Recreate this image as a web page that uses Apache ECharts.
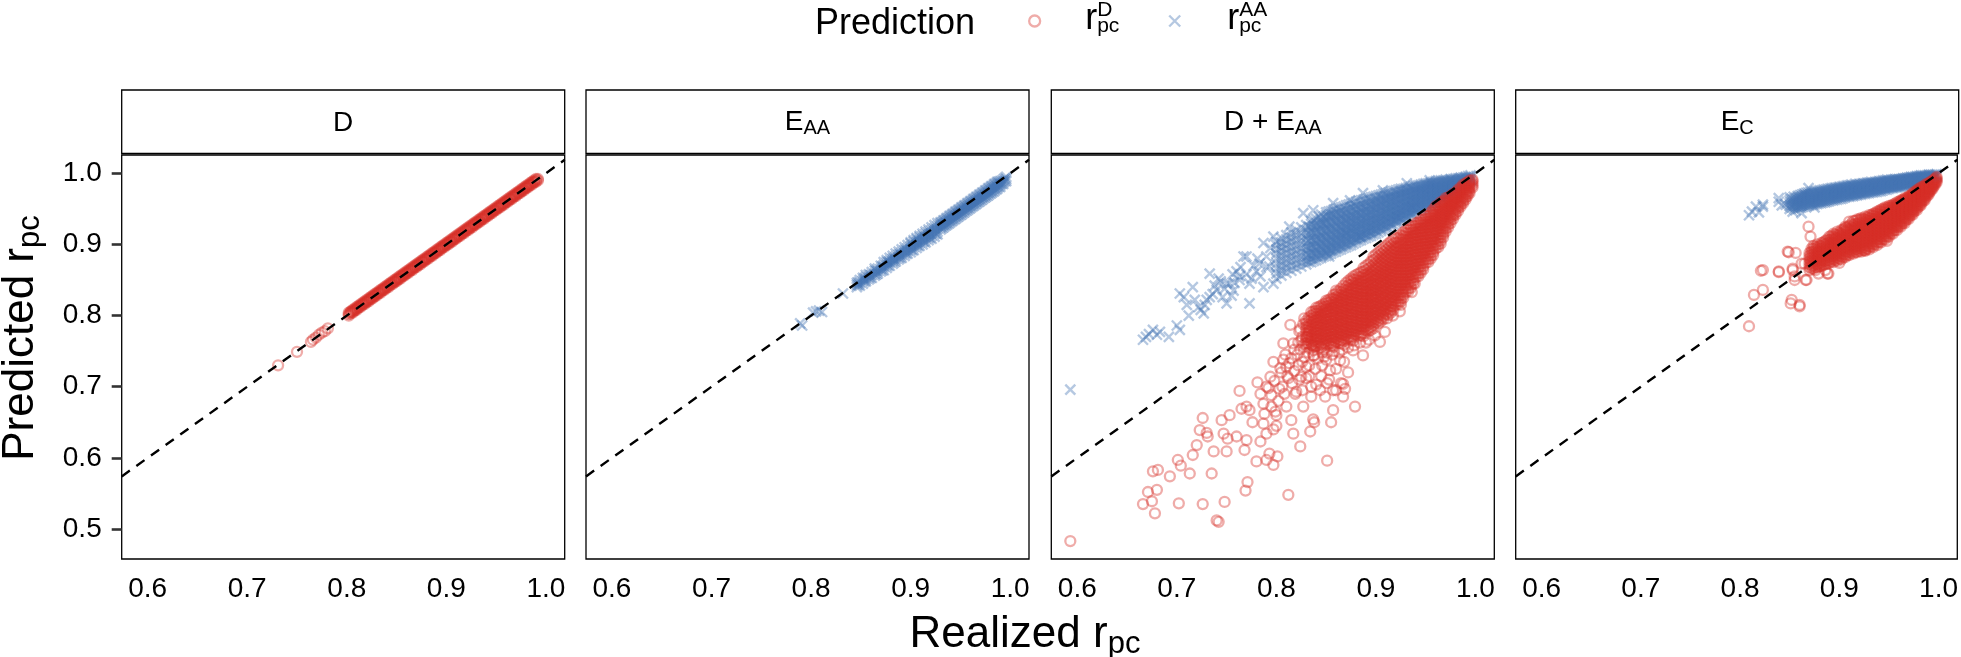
<!DOCTYPE html>
<html>
<head>
<meta charset="utf-8">
<title>Predicted vs realized r_pc</title>
<script src="https://cdn.jsdelivr.net/npm/echarts@6.0.0/dist/echarts.min.js"></script>
<style>
  html, body { margin: 0; padding: 0; background: #fff; }
  #chart { width: 1961px; height: 657px; }
</style>
</head>
<body>
<div id="chart"></div>
<script>
// tick labels
var xTickValues = [0.6, 0.7, 0.8, 0.9, 1.0];
var yTickValues = [0.5, 0.6, 0.7, 0.8, 0.9, 1.0];
// axis limits (data range + 5% padding)
var xMin = 0.5739, xMax = 1.0189;
var yMin = 0.4578, yMax = 1.0257;

// Point clouds. Loose points are [realized, predicted] pairs;
// crowded stretches are written per realized value: [realized, [predicted, ...]].

// panel "D" : prediction r^D
var panelD_rD_loose = [
  [0.731,0.730],[0.750,0.749],[0.764,0.763],[0.766,0.766],[0.769,0.769],[0.772,0.773],[0.775,0.776],[0.778,0.778],[0.781,0.782]
];
var panelD_rD_band = [
  [0.802,[0.800,0.802,0.804]],[0.804,[0.803,0.805,0.806]],[0.806,[0.804,0.806,0.808]],[0.808,[0.807,0.808,0.810]],
  [0.810,[0.808,0.810,0.812]],[0.812,[0.811,0.812,0.814]],[0.814,[0.812,0.814,0.816]],[0.816,[0.815,0.816,0.818]],
  [0.818,[0.816,0.818,0.820]],[0.820,[0.819,0.820,0.822]],[0.822,[0.820,0.822,0.824]],[0.824,[0.823,0.824,0.826]],
  [0.826,[0.824,0.826,0.828]],[0.828,[0.827,0.828,0.830]],[0.830,[0.828,0.830,0.832]],[0.832,[0.831,0.832,0.834]],
  [0.834,[0.832,0.834,0.836]],[0.836,[0.835,0.836,0.838]],[0.838,[0.836,0.838,0.840]],[0.840,[0.839,0.840,0.842]],
  [0.842,[0.840,0.842,0.844]],[0.844,[0.843,0.844,0.846]],[0.846,[0.844,0.846,0.848]],[0.848,[0.847,0.848,0.850]],
  [0.850,[0.848,0.850,0.852]],[0.852,[0.851,0.852,0.854]],[0.854,[0.852,0.854,0.856]],[0.856,[0.855,0.856,0.858]],
  [0.858,[0.856,0.858,0.860]],[0.860,[0.859,0.860,0.862]],[0.862,[0.860,0.862,0.864]],[0.864,[0.863,0.864,0.866]],
  [0.866,[0.864,0.866,0.868]],[0.868,[0.867,0.868,0.870]],[0.870,[0.868,0.870,0.872]],[0.872,[0.871,0.872,0.874]],
  [0.874,[0.872,0.874,0.876]],[0.876,[0.875,0.876,0.878]],[0.878,[0.876,0.878,0.880]],[0.880,[0.879,0.880,0.882]],
  [0.882,[0.880,0.882,0.884]],[0.884,[0.883,0.884,0.886]],[0.886,[0.884,0.886,0.888]],[0.888,[0.887,0.888,0.890]],
  [0.890,[0.888,0.890,0.892]],[0.892,[0.891,0.892,0.894]],[0.894,[0.892,0.894,0.896]],[0.896,[0.895,0.896,0.898]],
  [0.898,[0.896,0.898,0.900]],[0.900,[0.899,0.900,0.902]],[0.902,[0.900,0.902,0.904]],[0.904,[0.903,0.904,0.906]],
  [0.906,[0.904,0.906,0.908]],[0.908,[0.907,0.908,0.910]],[0.910,[0.908,0.910,0.912]],[0.912,[0.911,0.912,0.914]],
  [0.914,[0.912,0.914,0.916]],[0.916,[0.915,0.916,0.918]],[0.918,[0.916,0.918,0.920]],[0.920,[0.919,0.920,0.922]],
  [0.922,[0.920,0.922,0.924]],[0.924,[0.923,0.924,0.926]],[0.926,[0.924,0.926,0.928]],[0.928,[0.927,0.928,0.930]],
  [0.930,[0.928,0.930,0.932]],[0.932,[0.931,0.932,0.934]],[0.934,[0.932,0.934,0.936]],[0.936,[0.935,0.936,0.938]],
  [0.938,[0.936,0.938,0.940]],[0.940,[0.939,0.940,0.942]],[0.942,[0.940,0.942,0.944]],[0.944,[0.943,0.944,0.946]],
  [0.946,[0.944,0.946,0.948]],[0.948,[0.947,0.948,0.950]],[0.950,[0.948,0.950,0.952]],[0.952,[0.951,0.952,0.954]],
  [0.954,[0.952,0.954,0.956]],[0.956,[0.955,0.956,0.958]],[0.958,[0.956,0.958,0.960]],[0.960,[0.959,0.960,0.962]],
  [0.962,[0.960,0.962,0.964]],[0.964,[0.963,0.964,0.966]],[0.966,[0.964,0.966,0.968]],[0.968,[0.967,0.968,0.970]],
  [0.970,[0.968,0.970,0.972]],[0.972,[0.971,0.972,0.974]],[0.974,[0.972,0.974,0.976]],[0.976,[0.975,0.976,0.978]],
  [0.978,[0.976,0.978,0.980]],[0.980,[0.979,0.980,0.982]],[0.982,[0.980,0.982,0.984]],[0.984,[0.983,0.984,0.986]],
  [0.986,[0.984,0.986,0.988]],[0.988,[0.987,0.988,0.990]],[0.990,[0.988,0.990,0.992]],[0.992,[0.990,0.992]]
];

// panel "E_AA" : prediction r^AA
var panelEaa_rAA_loose = [
  [0.789,0.789],[0.791,0.786],[0.802,0.804],[0.805,0.806],[0.808,0.807],[0.811,0.805],[0.832,0.831]
];
var panelEaa_rAA_band = [
  [0.846,[0.840,0.843,0.846]],[0.849,[0.842,0.846,0.850]],[0.852,[0.845,0.849,0.853]],[0.855,[0.848,0.851,0.854,0.857]],
  [0.858,[0.851,0.854,0.858]],[0.861,[0.853,0.857,0.861]],[0.864,[0.856,0.859,0.863,0.866]],[0.867,[0.859,0.862,0.866]],
  [0.870,[0.862,0.866,0.870]],[0.873,[0.864,0.868,0.871,0.875]],[0.876,[0.867,0.871,0.875,0.878]],
  [0.879,[0.870,0.874,0.877,0.881]],[0.882,[0.873,0.877,0.880,0.884]],[0.885,[0.876,0.879,0.883,0.887]],
  [0.888,[0.879,0.882,0.886,0.890]],[0.891,[0.881,0.885,0.889,0.893]],[0.894,[0.884,0.888,0.892,0.896]],
  [0.897,[0.887,0.891,0.895,0.899]],[0.900,[0.889,0.893,0.897,0.901,0.903]],[0.903,[0.892,0.896,0.900,0.904,0.906]],
  [0.906,[0.895,0.899,0.903,0.907,0.909]],[0.909,[0.898,0.902,0.906,0.910,0.912]],[0.912,[0.900,0.904,0.908,0.912,0.915]],
  [0.915,[0.903,0.907,0.911,0.915,0.918]],[0.918,[0.906,0.910,0.914,0.918,0.921]],[0.921,[0.908,0.912,0.916,0.920,0.924]],
  [0.924,[0.911,0.915,0.919,0.923,0.927]],[0.927,[0.914,0.918,0.922,0.926,0.930]],
  [0.930,[0.921,0.924,0.926,0.929,0.931]],[0.933,[0.924,0.927,0.929,0.932,0.934]],[0.936,[0.927,0.930,0.932,0.935,0.937]],
  [0.939,[0.930,0.933,0.935,0.938,0.940]],[0.942,[0.933,0.936,0.938,0.941,0.943]],[0.945,[0.936,0.939,0.941,0.944,0.946]],
  [0.948,[0.939,0.942,0.944,0.947,0.949]],[0.951,[0.942,0.945,0.947,0.950,0.952]],[0.954,[0.945,0.948,0.950,0.953,0.955]],
  [0.957,[0.948,0.951,0.953,0.956,0.958]],[0.960,[0.951,0.954,0.956,0.959,0.961]],[0.963,[0.954,0.957,0.959,0.962,0.964]],
  [0.966,[0.957,0.960,0.962,0.965,0.967]],[0.969,[0.960,0.963,0.965,0.968,0.970]],[0.972,[0.963,0.966,0.968,0.971,0.973]],
  [0.975,[0.966,0.969,0.971,0.974,0.976]],[0.978,[0.969,0.972,0.974,0.977,0.979]],[0.981,[0.972,0.975,0.977,0.980,0.982]],
  [0.984,[0.975,0.978,0.980,0.983,0.985]],[0.987,[0.978,0.981,0.983,0.986,0.988]],[0.990,[0.981,0.984,0.986,0.989]],
  [0.993,[0.985,0.988,0.991]],[0.996,[0.989,0.992,0.995]],
  [0.9315,[0.923,0.927,0.931]],[0.9345,[0.926,0.930,0.934]],[0.9375,[0.929,0.933,0.937]],[0.9405,[0.932,0.936,0.940]],
  [0.9435,[0.935,0.939,0.943]],[0.9465,[0.938,0.942,0.946]],[0.9495,[0.941,0.945,0.949]],[0.9525,[0.944,0.948,0.952]],
  [0.9555,[0.947,0.951,0.955]],[0.9585,[0.950,0.954,0.958]],[0.9615,[0.953,0.957,0.961]],[0.9645,[0.956,0.960,0.964]],
  [0.9675,[0.959,0.963,0.967]],[0.9705,[0.962,0.966,0.970]],[0.9735,[0.965,0.969,0.973]],[0.9765,[0.968,0.972,0.976]],
  [0.9795,[0.971,0.975,0.979]],[0.9825,[0.974,0.978,0.982]],[0.9855,[0.977,0.981,0.985]],[0.9885,[0.981,0.985,0.988]],
  [0.9915,[0.985,0.989]],[0.9945,[0.989,0.993]],
  [0.8475,[0.843,0.847]],[0.8535,[0.848,0.852]],[0.8595,[0.853,0.857]],[0.8655,[0.858,0.863]],[0.8715,[0.864,0.869]],
  [0.8775,[0.870,0.875]],[0.8835,[0.875,0.880]],[0.8895,[0.881,0.886]],[0.8955,[0.887,0.892]],[0.9015,[0.892,0.898]],
  [0.9075,[0.898,0.904]],[0.9135,[0.904,0.910]],[0.9195,[0.909,0.915]],[0.9255,[0.915,0.921]]
];

// panel "D + E_AA" : prediction r^D
var panelDEaa_rD_loose = [
  [0.593,0.483],[0.666,0.535],[0.671,0.552],[0.675,0.539],[0.678,0.522],[0.680,0.555],[0.676,0.581],[0.681,0.583],[0.693,0.574],
  [0.702,0.536],[0.701,0.597],[0.704,0.589],[0.713,0.578],[0.716,0.604],[0.720,0.618],[0.723,0.639],[0.726,0.656],[0.726,0.535],
  [0.730,0.635],[0.731,0.630],[0.735,0.578],[0.737,0.609],[0.742,0.510],[0.740,0.512],[0.745,0.653],[0.747,0.634],[0.748,0.538],
  [0.750,0.609],[0.751,0.627],[0.753,0.660],[0.760,0.630],[0.763,0.694],[0.765,0.669],[0.768,0.611],[0.769,0.554],[0.770,0.625],
  [0.770,0.672],[0.771,0.566],[0.773,0.667],[0.780,0.595],[0.784,0.623],[0.787,0.648],[0.787,0.676],[0.788,0.662],[0.790,0.597],
  [0.790,0.634],[0.792,0.698],[0.793,0.606],[0.794,0.714],[0.797,0.590],[0.797,0.640],[0.797,0.735],[0.799,0.665],[0.800,0.645],
  [0.801,0.602],[0.803,0.697],[0.805,0.720],[0.807,0.738],[0.807,0.761],[0.810,0.728],[0.812,0.548],[0.812,0.712],[0.814,0.787],
  [0.815,0.653],[0.815,0.740],[0.817,0.634],[0.817,0.761],[0.818,0.722],[0.820,0.693],[0.821,0.745],[0.824,0.616],[0.824,0.752],
  [0.824,0.781],[0.825,0.714],[0.826,0.735],[0.827,0.672],[0.828,0.760],[0.830,0.728],[0.832,0.748],[0.833,0.715],[0.834,0.637],
  [0.835,0.686],[0.837,0.654],[0.837,0.744],[0.838,0.650],[0.840,0.703],[0.844,0.695],[0.848,0.742],[0.849,0.686],
  [0.851,0.596],[0.851,0.705],[0.851,0.748],[0.854,0.723],[0.855,0.650],[0.857,0.667],[0.857,0.695],[0.860,0.695],
  [0.864,0.737],[0.865,0.705],[0.867,0.686],[0.867,0.704],[0.869,0.697],[0.872,0.720],[0.877,0.751],
  [0.879,0.672],[0.887,0.744],[0.890,0.762],[0.904,0.763],[0.909,0.777],[0.911,0.796],[0.917,0.800],
  [0.924,0.806],[0.925,0.815],[0.936,0.833],[0.939,0.845],
  [0.790,0.700],[0.795,0.688],[0.798,0.708],[0.802,0.680],[0.804,0.726],[0.806,0.700],[0.808,0.690],[0.809,0.745],
  [0.811,0.715],[0.813,0.733],[0.816,0.705],[0.818,0.752],[0.819,0.690],[0.822,0.730],[0.823,0.710],[0.825,0.765],
  [0.826,0.695],[0.828,0.742],[0.830,0.712],[0.831,0.770],[0.833,0.730],[0.835,0.700],[0.836,0.758],[0.839,0.725],
  [0.842,0.740],[0.845,0.715],[0.846,0.730],[0.850,0.738],[0.853,0.710],[0.856,0.745],[0.860,0.725],[0.863,0.748],
  [0.868,0.735],[0.872,0.755],[0.795,0.672],[0.800,0.660],[0.810,0.672],[0.784,0.690],[0.781,0.706],[0.776,0.650],
  [0.838,0.744],[0.846,0.748],[0.858,0.750],[0.866,0.752],[0.878,0.758],[0.884,0.762],[0.893,0.766],[0.899,0.772],
  [0.826,0.770],[0.823,0.778],[0.827,0.788],[0.822,0.762],[0.828,0.796]
];
var panelDEaa_rD_core = [
  [0.830,[0.757,0.761,0.766,0.770,0.775,0.780,0.784,0.789,0.793]],
  [0.835,[0.754,0.759,0.763,0.768,0.772,0.777,0.781,0.786,0.790,0.795,0.800,0.805]],
  [0.840,[0.757,0.762,0.767,0.771,0.776,0.780,0.785,0.789,0.794,0.798,0.803,0.807,0.811]],
  [0.845,[0.756,0.760,0.765,0.769,0.774,0.778,0.783,0.787,0.792,0.796,0.801,0.805,0.810,0.814]],
  [0.850,[0.759,0.764,0.768,0.773,0.777,0.782,0.786,0.791,0.795,0.800,0.804,0.809,0.813,0.818,0.821]],
  [0.855,[0.757,0.761,0.766,0.770,0.775,0.779,0.784,0.788,0.793,0.797,0.802,0.806,0.811,0.815,0.820,0.824]],
  [0.860,[0.763,0.768,0.772,0.777,0.781,0.786,0.790,0.795,0.799,0.804,0.808,0.813,0.817,0.822,0.826,0.831,0.835]],
  [0.865,[0.761,0.765,0.770,0.774,0.779,0.783,0.788,0.792,0.797,0.801,0.806,0.810,0.815,0.819,0.824,0.828,0.833,0.838]],
  [0.870,[0.767,0.772,0.776,0.781,0.785,0.790,0.794,0.799,0.803,0.808,0.812,0.817,0.821,0.826,0.830,0.835,0.840,0.846]],
  [0.875,[0.766,0.770,0.775,0.779,0.784,0.788,0.793,0.797,0.802,0.806,0.811,0.815,0.820,0.824,0.829,0.833,0.838,0.843,0.848,0.852]],
  [0.880,[0.773,0.778,0.782,0.787,0.791,0.796,0.800,0.805,0.809,0.814,0.818,0.823,0.827,0.832,0.836,0.841,0.846,0.851,0.857]],
  [0.885,[0.772,0.776,0.781,0.785,0.790,0.794,0.799,0.803,0.808,0.812,0.817,0.821,0.826,0.830,0.835,0.839,0.844,0.849,0.854,0.861]],
  [0.890,[0.780,0.785,0.789,0.794,0.798,0.803,0.807,0.812,0.816,0.821,0.825,0.830,0.834,0.839,0.843,0.848,0.853,0.858,0.864,0.870]],
  [0.895,[0.780,0.784,0.789,0.793,0.798,0.802,0.807,0.811,0.816,0.820,0.825,0.829,0.834,0.838,0.843,0.847,0.852,0.857,0.862,0.868,0.876]],
  [0.900,[0.790,0.795,0.799,0.804,0.808,0.813,0.817,0.822,0.826,0.831,0.835,0.840,0.844,0.849,0.853,0.858,0.863,0.868,0.874,0.880,0.886]],
  [0.905,[0.792,0.796,0.801,0.805,0.810,0.814,0.819,0.823,0.828,0.832,0.837,0.841,0.846,0.850,0.855,0.859,0.864,0.869,0.874,0.880,0.886,0.892]],
  [0.910,[0.802,0.807,0.811,0.816,0.820,0.825,0.829,0.834,0.838,0.843,0.847,0.852,0.856,0.861,0.865,0.870,0.875,0.880,0.886,0.892,0.898]],
  [0.915,[0.804,0.808,0.813,0.817,0.822,0.826,0.831,0.835,0.840,0.844,0.849,0.853,0.858,0.862,0.867,0.871,0.876,0.881,0.886,0.892,0.898,0.904]],
  [0.920,[0.815,0.820,0.824,0.829,0.833,0.838,0.842,0.847,0.851,0.856,0.860,0.865,0.869,0.874,0.878,0.883,0.888,0.893,0.898,0.903,0.909]],
  [0.925,[0.820,0.824,0.829,0.833,0.838,0.842,0.847,0.851,0.856,0.860,0.865,0.869,0.874,0.878,0.883,0.887,0.892,0.897,0.902,0.907,0.913]],
  [0.930,[0.833,0.838,0.842,0.847,0.851,0.856,0.860,0.865,0.869,0.874,0.878,0.883,0.887,0.892,0.896,0.901,0.906,0.911,0.916,0.920]],
  [0.935,[0.839,0.843,0.848,0.852,0.857,0.861,0.866,0.870,0.875,0.879,0.884,0.888,0.893,0.897,0.902,0.906,0.911,0.916,0.921,0.925]],
  [0.940,[0.854,0.859,0.863,0.868,0.872,0.877,0.881,0.886,0.890,0.895,0.899,0.904,0.908,0.913,0.917,0.922,0.926,0.930]],
  [0.945,[0.860,0.864,0.869,0.873,0.878,0.882,0.887,0.891,0.896,0.900,0.905,0.909,0.914,0.918,0.923,0.927,0.931,0.935]],
  [0.950,[0.874,0.879,0.883,0.888,0.892,0.897,0.901,0.906,0.910,0.915,0.919,0.924,0.928,0.932,0.936,0.940]],
  [0.955,[0.880,0.884,0.889,0.893,0.898,0.902,0.907,0.911,0.916,0.920,0.925,0.929,0.933,0.937,0.941,0.945]],
  [0.960,[0.894,0.899,0.903,0.908,0.912,0.917,0.921,0.926,0.930,0.934,0.938,0.942,0.946,0.950,0.954]],
  [0.965,[0.901,0.905,0.910,0.914,0.919,0.923,0.927,0.931,0.935,0.939,0.943,0.947,0.951,0.955,0.959]],
  [0.970,[0.918,0.922,0.926,0.930,0.934,0.938,0.942,0.946,0.950,0.954,0.958,0.962,0.965]],
  [0.975,[0.930,0.934,0.938,0.941,0.945,0.949,0.953,0.956,0.960,0.964,0.968]],
  [0.980,[0.942,0.945,0.949,0.952,0.956,0.959,0.963,0.966,0.970,0.973]],
  [0.985,[0.953,0.956,0.960,0.963,0.967,0.970,0.974,0.977,0.980]],
  [0.990,[0.963,0.966,0.970,0.973,0.977,0.980,0.983,0.986]],
  [0.994,[0.972,0.975,0.979,0.982,0.985,0.988,0.990]],
  [0.997,[0.980,0.983,0.986,0.989,0.991]]
];
// the same mass, read half a step further along
var panelDEaa_rD_between = [
  [0.8325,[0.760,0.765,0.769,0.774,0.778,0.783,0.787,0.792,0.797]],
  [0.8375,[0.751,0.756,0.760,0.765,0.770,0.774,0.779,0.783,0.788,0.792,0.797,0.802,0.806]],
  [0.8425,[0.758,0.762,0.767,0.771,0.776,0.780,0.785,0.789,0.794,0.798,0.803,0.807,0.812]],
  [0.8475,[0.753,0.758,0.762,0.767,0.771,0.776,0.780,0.785,0.789,0.794,0.798,0.803,0.807,0.812,0.816]],
  [0.8525,[0.760,0.764,0.769,0.773,0.778,0.782,0.787,0.791,0.796,0.800,0.805,0.809,0.814,0.818,0.822]],
  [0.8575,[0.756,0.761,0.765,0.770,0.774,0.779,0.783,0.788,0.792,0.797,0.801,0.806,0.810,0.815,0.819,0.824,0.829]],
  [0.8625,[0.762,0.766,0.771,0.775,0.780,0.784,0.789,0.793,0.798,0.802,0.807,0.811,0.816,0.820,0.825,0.829,0.834]],
  [0.8675,[0.759,0.764,0.768,0.773,0.777,0.782,0.786,0.791,0.795,0.800,0.804,0.809,0.813,0.818,0.822,0.827,0.831,0.836,0.842]],
  [0.8725,[0.766,0.770,0.775,0.779,0.784,0.788,0.793,0.797,0.802,0.806,0.811,0.815,0.820,0.824,0.829,0.833,0.838,0.843,0.849]],
  [0.8775,[0.765,0.769,0.774,0.778,0.783,0.787,0.792,0.796,0.801,0.805,0.810,0.814,0.819,0.823,0.828,0.832,0.837,0.841,0.846,0.851,0.855]],
  [0.8825,[0.772,0.776,0.781,0.785,0.790,0.794,0.799,0.803,0.808,0.812,0.817,0.821,0.826,0.830,0.835,0.839,0.844,0.849,0.854,0.859]],
  [0.8875,[0.771,0.775,0.780,0.784,0.789,0.793,0.798,0.802,0.807,0.811,0.816,0.820,0.825,0.829,0.834,0.838,0.843,0.847,0.852,0.857,0.862,0.867]],
  [0.8925,[0.778,0.782,0.787,0.791,0.796,0.800,0.805,0.809,0.814,0.818,0.823,0.827,0.832,0.836,0.841,0.845,0.850,0.855,0.860,0.866,0.872]],
  [0.8975,[0.782,0.787,0.791,0.796,0.800,0.805,0.809,0.814,0.818,0.823,0.827,0.832,0.836,0.841,0.845,0.850,0.855,0.860,0.865,0.871,0.878,0.883]],
  [0.9025,[0.789,0.793,0.798,0.802,0.807,0.811,0.816,0.820,0.825,0.829,0.834,0.838,0.843,0.847,0.852,0.856,0.861,0.866,0.871,0.877,0.883,0.889]],
  [0.9075,[0.795,0.799,0.804,0.808,0.813,0.817,0.822,0.826,0.831,0.835,0.840,0.844,0.849,0.853,0.858,0.862,0.867,0.872,0.877,0.883,0.889,0.895]],
  [0.9125,[0.801,0.805,0.810,0.814,0.819,0.823,0.828,0.832,0.837,0.841,0.846,0.850,0.855,0.859,0.864,0.868,0.873,0.878,0.883,0.889,0.895,0.901]],
  [0.9175,[0.808,0.812,0.817,0.821,0.826,0.830,0.835,0.839,0.844,0.848,0.853,0.857,0.862,0.866,0.871,0.875,0.880,0.885,0.890,0.895,0.901,0.907]],
  [0.9225,[0.816,0.820,0.825,0.829,0.834,0.838,0.843,0.847,0.852,0.856,0.861,0.865,0.870,0.874,0.879,0.883,0.888,0.893,0.898,0.903,0.909]],
  [0.9275,[0.825,0.829,0.834,0.838,0.843,0.847,0.852,0.856,0.861,0.865,0.870,0.874,0.879,0.883,0.888,0.892,0.897,0.902,0.907,0.912,0.917]],
  [0.9325,[0.834,0.838,0.843,0.847,0.852,0.856,0.861,0.865,0.870,0.874,0.879,0.883,0.888,0.892,0.897,0.901,0.906,0.911,0.916,0.921]],
  [0.9375,[0.845,0.849,0.854,0.858,0.863,0.867,0.872,0.876,0.881,0.885,0.890,0.894,0.899,0.903,0.908,0.912,0.917,0.921,0.926]],
  [0.9425,[0.855,0.859,0.864,0.868,0.873,0.877,0.882,0.886,0.891,0.895,0.900,0.904,0.909,0.913,0.918,0.922,0.927,0.931]],
  [0.9475,[0.865,0.869,0.874,0.878,0.883,0.887,0.892,0.896,0.901,0.905,0.910,0.914,0.919,0.923,0.927,0.931,0.935]],
  [0.9525,[0.875,0.879,0.884,0.888,0.893,0.897,0.902,0.906,0.911,0.915,0.920,0.924,0.928,0.932,0.936,0.940]],
  [0.9575,[0.885,0.889,0.894,0.898,0.903,0.907,0.912,0.916,0.921,0.925,0.929,0.933,0.937,0.941,0.945,0.949]],
  [0.9625,[0.896,0.900,0.905,0.909,0.914,0.918,0.922,0.926,0.930,0.934,0.938,0.942,0.946,0.950,0.954]],
  [0.9675,[0.910,0.914,0.918,0.922,0.926,0.930,0.934,0.938,0.942,0.946,0.950,0.954,0.958,0.961]],
  [0.9725,[0.924,0.928,0.932,0.936,0.940,0.944,0.948,0.951,0.955,0.959,0.962,0.966]],
  [0.9775,[0.936,0.940,0.943,0.947,0.951,0.954,0.958,0.961,0.965,0.968,0.971]],
  [0.9825,[0.947,0.951,0.954,0.958,0.961,0.965,0.968,0.971,0.974,0.977]],
  [0.9875,[0.958,0.961,0.965,0.968,0.972,0.975,0.978,0.981,0.984]],
  [0.9920,[0.968,0.971,0.975,0.978,0.981,0.984,0.987]]
];

// panel "D + E_AA" : prediction r^AA
var panelDEaa_rAA_loose = [
  [0.593,0.696],[0.666,0.766],[0.669,0.770],[0.672,0.774],[0.676,0.780],[0.680,0.773],[0.683,0.777],[0.692,0.770],[0.700,0.786],
  [0.703,0.780],[0.703,0.831],[0.707,0.826],[0.712,0.800],[0.716,0.840],[0.722,0.812],[0.724,0.808],[0.727,0.803],[0.730,0.822],
  [0.733,0.826],[0.733,0.859],[0.736,0.830],[0.740,0.836],[0.744,0.848],[0.746,0.826],[0.750,0.817],[0.750,0.845],[0.753,0.845],
  [0.755,0.828],[0.757,0.835],[0.760,0.862],[0.763,0.850],[0.763,0.855],[0.767,0.883],[0.770,0.858],[0.770,0.883],[0.773,0.817],
  [0.773,0.845],[0.777,0.870],[0.781,0.880],[0.784,0.855],[0.787,0.902],[0.787,0.840],[0.790,0.883],[0.790,0.868],[0.793,0.869],
  [0.797,0.911],[0.797,0.845],[0.780,0.862],[0.775,0.852],[0.758,0.846],[0.748,0.838],[0.738,0.842],[0.728,0.815],[0.718,0.822],
  [0.764,0.868],[0.783,0.873],[0.794,0.895],[0.710,0.815],[0.742,0.852],[0.756,0.858],
  [0.813,0.925],[0.827,0.944],[0.837,0.948],[0.847,0.930],[0.853,0.883],[0.857,0.958],[0.870,0.916],[0.874,0.962],
  [0.884,0.911],[0.887,0.972],[0.907,0.976],[0.921,0.939],[0.931,0.986],[0.937,0.953],[0.954,0.990]
];
var panelDEaa_rAA_core = [
  [0.800,[0.852,0.859,0.866,0.873,0.880,0.887,0.893,0.899,0.904]],
  [0.805,[0.856,0.863,0.870,0.877,0.884,0.891,0.897,0.903,0.909]],
  [0.810,[0.860,0.867,0.873,0.880,0.887,0.894,0.900,0.907,0.913]],
  [0.815,[0.863,0.870,0.877,0.884,0.890,0.897,0.904,0.910,0.917]],
  [0.820,[0.866,0.872,0.879,0.886,0.892,0.899,0.906,0.913,0.920]],
  [0.825,[0.869,0.875,0.882,0.889,0.895,0.902,0.909,0.916,0.924]],
  [0.830,[0.872,0.877,0.882,0.887,0.892,0.897,0.902,0.908,0.913,0.920,0.927]],
  [0.835,[0.875,0.880,0.884,0.889,0.894,0.899,0.904,0.909,0.914,0.919,0.924,0.929,0.933]],
  [0.840,[0.878,0.883,0.887,0.892,0.896,0.901,0.905,0.910,0.915,0.920,0.925,0.930,0.936]],
  [0.845,[0.881,0.885,0.889,0.894,0.898,0.903,0.907,0.912,0.916,0.921,0.926,0.931,0.935,0.942]],
  [0.850,[0.884,0.888,0.892,0.896,0.900,0.905,0.909,0.914,0.918,0.923,0.927,0.932,0.936,0.941,0.945]],
  [0.855,[0.887,0.891,0.895,0.899,0.903,0.907,0.911,0.916,0.920,0.925,0.929,0.934,0.938,0.943,0.947]],
  [0.860,[0.890,0.894,0.898,0.902,0.906,0.910,0.914,0.918,0.922,0.927,0.931,0.936,0.940,0.945,0.950]],
  [0.865,[0.893,0.897,0.901,0.905,0.909,0.913,0.917,0.921,0.925,0.929,0.933,0.938,0.942,0.947,0.952]],
  [0.870,[0.896,0.900,0.904,0.908,0.912,0.916,0.920,0.924,0.928,0.932,0.936,0.940,0.944,0.949,0.955]],
  [0.875,[0.899,0.903,0.907,0.911,0.915,0.919,0.922,0.926,0.930,0.934,0.938,0.942,0.947,0.952,0.957]],
  [0.880,[0.903,0.907,0.910,0.914,0.918,0.922,0.925,0.929,0.933,0.937,0.941,0.945,0.949,0.954,0.960]],
  [0.885,[0.906,0.910,0.913,0.917,0.921,0.925,0.928,0.932,0.936,0.940,0.944,0.948,0.952,0.957,0.962]],
  [0.890,[0.909,0.913,0.916,0.920,0.923,0.927,0.931,0.934,0.938,0.942,0.946,0.950,0.954,0.959,0.964]],
  [0.895,[0.912,0.916,0.919,0.923,0.926,0.930,0.934,0.937,0.941,0.945,0.949,0.953,0.957,0.961,0.966]],
  [0.900,[0.915,0.919,0.922,0.926,0.929,0.933,0.936,0.940,0.944,0.948,0.952,0.956,0.960,0.964,0.968]],
  [0.905,[0.919,0.922,0.926,0.929,0.933,0.936,0.940,0.943,0.947,0.951,0.954,0.958,0.962,0.966,0.970]],
  [0.910,[0.922,0.925,0.929,0.932,0.936,0.939,0.943,0.946,0.950,0.953,0.957,0.961,0.964,0.968,0.972]],
  [0.915,[0.926,0.929,0.932,0.936,0.939,0.942,0.946,0.949,0.953,0.956,0.960,0.963,0.967,0.970,0.974]],
  [0.920,[0.930,0.933,0.936,0.939,0.943,0.946,0.949,0.953,0.956,0.959,0.963,0.966,0.970,0.973,0.976]],
  [0.925,[0.934,0.937,0.940,0.943,0.946,0.949,0.952,0.956,0.959,0.962,0.965,0.969,0.972,0.975,0.978]],
  [0.930,[0.937,0.940,0.943,0.946,0.949,0.952,0.955,0.958,0.961,0.964,0.968,0.971,0.974,0.977,0.979]],
  [0.935,[0.941,0.944,0.947,0.950,0.952,0.955,0.958,0.961,0.964,0.967,0.970,0.973,0.976,0.979,0.981]],
  [0.940,[0.945,0.948,0.950,0.953,0.956,0.959,0.961,0.964,0.967,0.970,0.972,0.975,0.978,0.981,0.983]],
  [0.945,[0.949,0.951,0.954,0.957,0.959,0.962,0.964,0.967,0.970,0.972,0.975,0.977,0.980,0.982,0.984]],
  [0.950,[0.952,0.955,0.957,0.960,0.962,0.965,0.967,0.970,0.972,0.975,0.977,0.980,0.982,0.984,0.986]],
  [0.955,[0.956,0.958,0.961,0.963,0.965,0.968,0.970,0.972,0.975,0.977,0.979,0.982,0.984,0.986,0.987]],
  [0.960,[0.960,0.962,0.964,0.967,0.969,0.971,0.973,0.975,0.977,0.979,0.981,0.983,0.985,0.987,0.989]],
  [0.965,[0.964,0.966,0.968,0.970,0.972,0.974,0.976,0.978,0.980,0.982,0.984,0.986,0.988,0.990]],
  [0.970,[0.967,0.969,0.971,0.973,0.975,0.977,0.979,0.981,0.983,0.985,0.987,0.989,0.991]],
  [0.975,[0.971,0.973,0.975,0.977,0.979,0.981,0.983,0.985,0.987,0.989,0.991,0.992]],
  [0.980,[0.975,0.977,0.979,0.981,0.983,0.985,0.987,0.989,0.991,0.993]],
  [0.985,[0.979,0.981,0.983,0.985,0.987,0.989,0.991,0.993,0.994]],
  [0.990,[0.984,0.986,0.988,0.990,0.992,0.994,0.995]],
  [0.995,[0.989,0.991,0.993,0.995,0.997]]
];
var panelDEaa_rAA_between = [
  [0.8325,[0.875,0.885,0.895,0.905,0.915,0.925]],
  [0.8375,[0.877,0.887,0.896,0.906,0.916,0.926,0.934]],
  [0.8425,[0.880,0.889,0.898,0.908,0.918,0.928,0.939]],
  [0.8475,[0.883,0.892,0.901,0.910,0.919,0.929,0.939]],
  [0.8525,[0.886,0.894,0.903,0.912,0.921,0.930,0.940,0.946]],
  [0.8575,[0.889,0.897,0.905,0.914,0.923,0.932,0.941,0.949]],
  [0.8625,[0.892,0.900,0.908,0.916,0.925,0.934,0.943,0.951]],
  [0.8675,[0.895,0.903,0.911,0.919,0.927,0.935,0.944,0.953]],
  [0.8725,[0.898,0.906,0.914,0.922,0.930,0.938,0.946,0.956]],
  [0.8775,[0.901,0.909,0.917,0.924,0.932,0.940,0.949,0.958]],
  [0.8825,[0.905,0.912,0.920,0.927,0.935,0.943,0.951,0.961]],
  [0.8875,[0.908,0.915,0.922,0.930,0.937,0.945,0.953,0.963]],
  [0.8925,[0.911,0.918,0.925,0.932,0.940,0.947,0.955,0.965]],
  [0.8975,[0.914,0.921,0.928,0.935,0.942,0.950,0.958,0.967]],
  [0.9025,[0.917,0.924,0.931,0.938,0.945,0.953,0.961,0.969]],
  [0.9075,[0.921,0.927,0.934,0.941,0.948,0.956,0.963,0.971]],
  [0.9125,[0.924,0.931,0.937,0.944,0.951,0.958,0.966,0.973]],
  [0.9175,[0.928,0.934,0.941,0.947,0.954,0.961,0.968,0.975]],
  [0.9225,[0.932,0.938,0.944,0.950,0.957,0.964,0.971,0.977]],
  [0.9275,[0.935,0.941,0.947,0.953,0.960,0.966,0.973,0.978]],
  [0.9325,[0.939,0.945,0.951,0.956,0.962,0.968,0.975,0.980]],
  [0.9375,[0.943,0.949,0.954,0.959,0.965,0.971,0.977,0.982]],
  [0.9425,[0.947,0.952,0.957,0.962,0.968,0.973,0.979,0.983]],
  [0.9475,[0.950,0.955,0.960,0.965,0.971,0.976,0.981,0.985]],
  [0.9525,[0.954,0.959,0.963,0.968,0.973,0.978,0.983,0.986]],
  [0.9575,[0.958,0.962,0.966,0.971,0.976,0.980,0.985,0.988]],
  [0.9625,[0.962,0.966,0.970,0.974,0.978,0.982,0.986,0.989]],
  [0.9675,[0.965,0.969,0.973,0.977,0.981,0.985,0.988,0.990]],
  [0.9725,[0.969,0.973,0.976,0.980,0.984,0.987,0.990]],
  [0.9775,[0.973,0.976,0.980,0.983,0.986,0.989,0.992]],
  [0.9825,[0.977,0.980,0.984,0.987,0.990,0.993]],
  [0.9875,[0.981,0.985,0.988,0.991,0.994]],
  [0.9925,[0.986,0.990,0.993,0.996]]
];

// panel "E_C" : prediction r^D
var panelEc_rD_loose = [
  [0.809,0.785],[0.814,0.829],[0.823,0.836],[0.821,0.863],[0.823,0.864],[0.839,0.861],[0.839,0.862],[0.848,0.890],[0.849,0.889],
  [0.851,0.817],[0.852,0.822],[0.853,0.864],[0.853,0.866],[0.855,0.850],[0.855,0.855],[0.856,0.888],[0.860,0.813],[0.860,0.815],
  [0.862,0.873],[0.865,0.873],[0.866,0.850],[0.867,0.850],[0.869,0.925],[0.871,0.911],[0.876,0.864],[0.879,0.859],[0.879,0.890],
  [0.880,0.869],[0.882,0.878],[0.886,0.864],[0.888,0.859],[0.889,0.859],[0.893,0.901],[0.896,0.908],[0.900,0.874],[0.906,0.925],
  [0.910,0.932],[0.916,0.897],[0.926,0.892],[0.946,0.920],[0.948,0.905]
];
var panelEc_rD_core = [
  [0.870,[0.864,0.868,0.872,0.876,0.880,0.884,0.888]],
  [0.874,[0.866,0.870,0.874,0.878,0.882,0.886,0.890,0.894,0.898]],
  [0.878,[0.868,0.872,0.876,0.880,0.884,0.888,0.892,0.896,0.900]],
  [0.882,[0.870,0.874,0.878,0.882,0.886,0.890,0.894,0.898,0.902]],
  [0.886,[0.872,0.876,0.880,0.884,0.888,0.892,0.896,0.900,0.905]],
  [0.890,[0.874,0.878,0.882,0.886,0.890,0.894,0.898,0.902,0.906,0.911]],
  [0.894,[0.875,0.879,0.883,0.887,0.891,0.895,0.899,0.903,0.907,0.911,0.915]],
  [0.898,[0.877,0.881,0.885,0.889,0.893,0.897,0.901,0.905,0.909,0.913,0.918]],
  [0.902,[0.879,0.883,0.887,0.891,0.895,0.899,0.903,0.907,0.911,0.915,0.920]],
  [0.906,[0.882,0.886,0.890,0.894,0.898,0.902,0.906,0.910,0.914,0.918,0.923]],
  [0.910,[0.885,0.889,0.893,0.897,0.901,0.905,0.909,0.913,0.917,0.921,0.926]],
  [0.914,[0.887,0.891,0.895,0.899,0.903,0.907,0.911,0.915,0.919,0.923,0.927,0.933]],
  [0.918,[0.889,0.893,0.897,0.901,0.905,0.909,0.913,0.917,0.921,0.925,0.929,0.935]],
  [0.922,[0.890,0.894,0.898,0.902,0.906,0.910,0.914,0.918,0.922,0.926,0.930,0.934,0.937]],
  [0.926,[0.891,0.895,0.899,0.903,0.907,0.911,0.915,0.919,0.923,0.927,0.931,0.935,0.939]],
  [0.930,[0.893,0.897,0.901,0.905,0.909,0.913,0.917,0.921,0.925,0.929,0.933,0.937,0.941]],
  [0.934,[0.896,0.900,0.904,0.908,0.912,0.916,0.920,0.924,0.928,0.932,0.936,0.940,0.943]],
  [0.938,[0.899,0.903,0.907,0.911,0.915,0.919,0.923,0.927,0.931,0.935,0.939,0.943,0.946]],
  [0.942,[0.903,0.907,0.911,0.915,0.919,0.923,0.927,0.931,0.934,0.938,0.942,0.946,0.949]],
  [0.946,[0.907,0.911,0.915,0.919,0.923,0.927,0.930,0.934,0.937,0.941,0.945,0.949,0.952]],
  [0.950,[0.911,0.915,0.919,0.922,0.926,0.930,0.933,0.937,0.940,0.944,0.947,0.951,0.954]],
  [0.954,[0.915,0.919,0.923,0.926,0.930,0.933,0.937,0.940,0.944,0.947,0.950,0.953,0.956]],
  [0.958,[0.920,0.924,0.927,0.930,0.934,0.937,0.941,0.944,0.947,0.950,0.953,0.956,0.959]],
  [0.962,[0.925,0.928,0.932,0.935,0.939,0.942,0.945,0.948,0.951,0.954,0.957,0.960,0.962]],
  [0.966,[0.930,0.933,0.937,0.940,0.943,0.946,0.949,0.952,0.955,0.958,0.960,0.963,0.965]],
  [0.970,[0.936,0.939,0.942,0.945,0.948,0.951,0.954,0.957,0.959,0.962,0.964,0.966,0.968]],
  [0.974,[0.942,0.945,0.948,0.950,0.953,0.956,0.958,0.961,0.963,0.966,0.968,0.970,0.972]],
  [0.978,[0.948,0.951,0.954,0.956,0.959,0.961,0.964,0.966,0.968,0.970,0.972,0.974,0.976]],
  [0.982,[0.955,0.957,0.960,0.962,0.965,0.967,0.969,0.971,0.973,0.975,0.977,0.980]],
  [0.986,[0.962,0.964,0.967,0.969,0.971,0.973,0.975,0.977,0.979,0.981,0.983]],
  [0.990,[0.970,0.972,0.974,0.976,0.978,0.980,0.982,0.984,0.986]],
  [0.994,[0.978,0.980,0.982,0.984,0.986,0.988,0.990]],
  [0.998,[0.987,0.989,0.991,0.993,0.995]]
];
var panelEc_rD_between = [
  [0.872,[0.866,0.870,0.874,0.878,0.882,0.886,0.890,0.894]],
  [0.876,[0.868,0.872,0.876,0.880,0.884,0.888,0.892,0.896]],
  [0.880,[0.870,0.874,0.878,0.882,0.886,0.890,0.894,0.898]],
  [0.884,[0.872,0.876,0.880,0.884,0.888,0.892,0.896,0.900,0.903]],
  [0.888,[0.874,0.878,0.882,0.886,0.890,0.894,0.898,0.902,0.907]],
  [0.892,[0.876,0.880,0.884,0.888,0.892,0.896,0.900,0.904,0.908,0.912]],
  [0.896,[0.878,0.882,0.886,0.890,0.894,0.898,0.902,0.906,0.910,0.914]],
  [0.900,[0.880,0.884,0.888,0.892,0.896,0.900,0.904,0.908,0.912,0.916]],
  [0.904,[0.882,0.886,0.890,0.894,0.898,0.902,0.906,0.910,0.914,0.918,0.921]],
  [0.908,[0.885,0.889,0.893,0.897,0.901,0.905,0.909,0.913,0.917,0.921,0.924]],
  [0.912,[0.888,0.892,0.896,0.900,0.904,0.908,0.912,0.916,0.920,0.924,0.929]],
  [0.916,[0.889,0.893,0.897,0.901,0.905,0.909,0.913,0.917,0.921,0.925,0.929,0.933]],
  [0.920,[0.891,0.895,0.899,0.903,0.907,0.911,0.915,0.919,0.923,0.927,0.931,0.935]],
  [0.924,[0.892,0.896,0.900,0.904,0.908,0.912,0.916,0.920,0.924,0.928,0.932,0.936]],
  [0.928,[0.894,0.898,0.902,0.906,0.910,0.914,0.918,0.922,0.926,0.930,0.934,0.938]],
  [0.932,[0.897,0.901,0.905,0.909,0.913,0.917,0.921,0.925,0.929,0.933,0.937,0.941]],
  [0.936,[0.900,0.904,0.908,0.912,0.916,0.920,0.924,0.928,0.932,0.936,0.940,0.944]],
  [0.940,[0.903,0.907,0.911,0.915,0.919,0.923,0.927,0.931,0.935,0.939,0.943,0.947]],
  [0.944,[0.907,0.911,0.915,0.919,0.923,0.927,0.931,0.934,0.938,0.942,0.946,0.950]],
  [0.948,[0.911,0.915,0.919,0.922,0.926,0.930,0.934,0.937,0.941,0.945,0.949,0.952]],
  [0.952,[0.915,0.919,0.923,0.926,0.930,0.934,0.937,0.941,0.944,0.948,0.951,0.954]],
  [0.956,[0.920,0.924,0.927,0.931,0.934,0.938,0.941,0.945,0.948,0.951,0.954,0.957]],
  [0.960,[0.925,0.928,0.932,0.935,0.939,0.942,0.945,0.948,0.951,0.954,0.957,0.960]],
  [0.964,[0.930,0.933,0.937,0.940,0.943,0.946,0.949,0.952,0.955,0.958,0.961,0.963]],
  [0.968,[0.935,0.938,0.942,0.945,0.948,0.951,0.954,0.957,0.960,0.962,0.965]],
  [0.972,[0.941,0.944,0.947,0.950,0.953,0.956,0.959,0.962,0.964,0.967,0.969]],
  [0.976,[0.947,0.950,0.953,0.956,0.959,0.962,0.964,0.967,0.969,0.971,0.974]],
  [0.980,[0.953,0.956,0.959,0.962,0.964,0.967,0.969,0.971,0.973,0.976,0.978]],
  [0.984,[0.960,0.963,0.966,0.968,0.970,0.972,0.974,0.976,0.978,0.981]],
  [0.988,[0.967,0.970,0.972,0.974,0.976,0.978,0.980,0.982,0.985]],
  [0.992,[0.975,0.977,0.979,0.981,0.983,0.985,0.988]],
  [0.996,[0.983,0.985,0.987,0.989,0.992]]
];

// panel "E_C" : prediction r^AA
var panelEc_rAA_loose = [
  [0.809,0.941],[0.812,0.946],[0.816,0.953],[0.819,0.945],[0.823,0.953],[0.823,0.956],[0.839,0.960],[0.839,0.965],[0.842,0.955],
  [0.846,0.956],[0.853,0.946],[0.856,0.948],[0.862,0.944],[0.865,0.970],[0.869,0.979],[0.871,0.963],[0.875,0.952],[0.880,0.971]
];
var panelEc_rAA_core = [
  [0.850,[0.950,0.954,0.958,0.962,0.966]],[0.854,[0.951,0.955,0.959,0.963,0.967]],[0.858,[0.953,0.957,0.961,0.965,0.968]],
  [0.862,[0.952,0.955,0.958,0.961,0.964,0.967,0.970]],[0.866,[0.954,0.957,0.960,0.963,0.966,0.969,0.972]],
  [0.870,[0.955,0.958,0.961,0.964,0.967,0.970,0.973]],[0.874,[0.956,0.959,0.962,0.965,0.968,0.971,0.974]],
  [0.878,[0.957,0.960,0.963,0.966,0.969,0.972,0.975]],[0.882,[0.958,0.961,0.964,0.967,0.970,0.973,0.976]],
  [0.886,[0.959,0.962,0.965,0.968,0.971,0.974,0.977]],[0.890,[0.961,0.964,0.967,0.970,0.972,0.975,0.978]],
  [0.894,[0.962,0.965,0.968,0.971,0.973,0.976,0.979]],[0.898,[0.963,0.966,0.969,0.972,0.974,0.977,0.980]],
  [0.902,[0.964,0.967,0.970,0.973,0.975,0.978,0.981]],[0.906,[0.966,0.968,0.971,0.974,0.976,0.979,0.982]],
  [0.910,[0.967,0.969,0.972,0.975,0.977,0.980,0.983]],[0.914,[0.968,0.970,0.973,0.976,0.978,0.981,0.983]],
  [0.918,[0.969,0.971,0.974,0.977,0.979,0.982,0.984]],[0.922,[0.970,0.972,0.975,0.978,0.980,0.983,0.985]],
  [0.926,[0.971,0.973,0.976,0.979,0.981,0.984,0.986]],[0.930,[0.972,0.975,0.977,0.980,0.982,0.985,0.987]],
  [0.934,[0.973,0.976,0.978,0.981,0.983,0.985,0.987]],[0.938,[0.974,0.977,0.979,0.982,0.984,0.986,0.988]],
  [0.942,[0.975,0.978,0.980,0.983,0.985,0.987,0.989]],[0.946,[0.977,0.979,0.981,0.984,0.986,0.988,0.990]],
  [0.950,[0.978,0.980,0.982,0.985,0.987,0.989,0.990]],[0.954,[0.979,0.981,0.983,0.985,0.987,0.989,0.991]],
  [0.958,[0.980,0.982,0.984,0.986,0.988,0.990,0.992]],[0.962,[0.981,0.983,0.985,0.987,0.989,0.991,0.992]],
  [0.966,[0.982,0.984,0.986,0.988,0.990,0.992,0.993]],[0.970,[0.984,0.986,0.987,0.989,0.991,0.993,0.994]],
  [0.974,[0.985,0.987,0.988,0.990,0.992,0.994,0.995]],[0.978,[0.986,0.988,0.990,0.991,0.993,0.995,0.996]],
  [0.982,[0.988,0.990,0.991,0.993,0.994,0.996,0.997]],[0.986,[0.989,0.991,0.992,0.994,0.995,0.997]],
  [0.990,[0.991,0.993,0.994,0.996,0.998]],[0.994,[0.993,0.995,0.996,0.998]],[0.998,[0.995,0.997,0.999]]
];
var panelEc_rAA_between = [
  [0.852,[0.952,0.956,0.960,0.964]],[0.856,[0.953,0.957,0.961,0.965]],
  [0.860,[0.951,0.954,0.957,0.960,0.963,0.966,0.969]],[0.864,[0.953,0.956,0.959,0.962,0.965,0.968,0.971]],
  [0.868,[0.955,0.958,0.961,0.964,0.967,0.970,0.973]],[0.872,[0.956,0.959,0.962,0.965,0.968,0.971,0.974]],
  [0.876,[0.957,0.960,0.963,0.966,0.969,0.972,0.975]],[0.880,[0.958,0.961,0.964,0.967,0.970,0.973,0.976]],
  [0.884,[0.959,0.962,0.965,0.968,0.971,0.974,0.977]],[0.888,[0.960,0.963,0.966,0.969,0.972,0.975,0.978]],
  [0.892,[0.962,0.965,0.968,0.971,0.974,0.977,0.979]],[0.896,[0.963,0.966,0.969,0.972,0.975,0.978,0.980]],
  [0.900,[0.964,0.967,0.970,0.973,0.976,0.979,0.981]],[0.904,[0.965,0.968,0.971,0.974,0.977,0.980,0.982]],
  [0.908,[0.967,0.970,0.972,0.975,0.978,0.981,0.983]],[0.912,[0.968,0.971,0.973,0.976,0.979,0.982,0.984]],
  [0.916,[0.969,0.972,0.974,0.977,0.980,0.982,0.985]],[0.920,[0.970,0.973,0.975,0.978,0.981,0.983,0.985]],
  [0.924,[0.971,0.974,0.976,0.979,0.982,0.984,0.986]],[0.928,[0.972,0.975,0.977,0.980,0.983,0.985,0.987]],
  [0.932,[0.973,0.976,0.978,0.981,0.983,0.986,0.988]],[0.936,[0.974,0.977,0.979,0.982,0.984,0.986,0.988]],
  [0.940,[0.975,0.978,0.980,0.983,0.985,0.987,0.989]],[0.944,[0.976,0.979,0.981,0.984,0.986,0.988,0.990]],
  [0.948,[0.977,0.980,0.982,0.985,0.987,0.989,0.991]],[0.952,[0.979,0.981,0.983,0.985,0.987,0.989,0.991]],
  [0.956,[0.980,0.982,0.984,0.986,0.988,0.990,0.992]],[0.960,[0.981,0.983,0.985,0.987,0.989,0.991,0.992]],
  [0.964,[0.982,0.984,0.986,0.988,0.990,0.992,0.993]],[0.968,[0.983,0.985,0.987,0.989,0.991,0.993,0.994]],
  [0.972,[0.984,0.986,0.988,0.990,0.992,0.994,0.995]],[0.976,[0.986,0.988,0.989,0.991,0.993,0.995]],
  [0.980,[0.987,0.989,0.991,0.992,0.994,0.996]],[0.984,[0.988,0.990,0.992,0.994,0.995,0.997]],
  [0.988,[0.990,0.992,0.994,0.995,0.997]],[0.992,[0.992,0.994,0.996,0.998]],[0.996,[0.994,0.996,0.998]]
];

var RED = 'rgba(215,48,39,0.5)';
var BLUE = 'rgba(69,117,180,0.5)';
var CROSS = 'path://M0,0L10,10M10,0L0,10';
var FONT = '"Liberation Sans", Arial, Helvetica, sans-serif';

var panelLeft = [121.7, 586, 1051.3, 1515.7];
var panelWidth = 443;
var panelTop = 155;
var panelHeight = 404;

// strip labels (rich text keeps the subscripts)
var stripText = ['{e|D}', '{e|E}{s|AA}', '{e|D + E}{s|AA}', '{e|E}{s|C}'];
var stripRich = {
  e: { fontSize: 28, fontFamily: FONT, fill: '#000', verticalAlign: 'top' },
  s: { fontSize: 20, fontFamily: FONT, fill: '#000', verticalAlign: 'top', padding: [10, 0, 0, 0] }
};
var titleRich = {
  a: { fontSize: 44, fontFamily: FONT, fill: '#000', verticalAlign: 'top' },
  s: { fontSize: 31, fontFamily: FONT, fill: '#000', verticalAlign: 'top', padding: [16, 0, 0, 0] }
};

// [x, [y, y, ...]] columns -> [x, y] pairs
function columnsToPairs(cols) {
  var out = [];
  cols.forEach(function (c) {
    c[1].forEach(function (y) { out.push([c[0], y]); });
  });
  return out;
}

function tickFmt(v) {
  return v.toFixed(1);
}

var grids = [], xAxes = [], yAxes = [], series = [], graphics = [];

panelLeft.forEach(function (left, i) {
  grids.push({
    left: left, top: panelTop, width: panelWidth, height: panelHeight,
    show: true, borderColor: '#000', borderWidth: 1.3, backgroundColor: 'rgba(0,0,0,0)'
  });
  xAxes.push({
    gridIndex: i, type: 'value', min: xMin, max: xMax,
    axisLine: { show: false }, axisTick: { show: false }, splitLine: { show: false },
    axisLabel: {
      customValues: xTickValues, formatter: tickFmt, fontSize: 28, fontFamily: FONT,
      color: '#000', margin: 16
    }
  });
  yAxes.push({
    gridIndex: i, type: 'value', min: yMin, max: yMax,
    axisLine: { show: false }, splitLine: { show: false },
    axisTick: {
      show: i === 0, customValues: yTickValues, length: 10,
      lineStyle: { color: '#333', width: 2.6 }
    },
    axisLabel: {
      show: i === 0, customValues: yTickValues, formatter: tickFmt, fontSize: 28,
      fontFamily: FONT, color: '#000', margin: 20
    }
  });

  // strip header
  graphics.push({
    type: 'rect', z: 10,
    shape: { x: left, y: 90, width: panelWidth, height: 63.5 },
    style: { fill: '#fff', stroke: '#000', lineWidth: 1.3 }
  });
  graphics.push({
    type: 'text', z: 11,
    style: {
      x: left + panelWidth / 2, y: 123.5, text: stripText[i], rich: stripRich,
      fill: '#000', align: 'center', verticalAlign: 'middle',
      textAlign: 'center', textVerticalAlign: 'middle'
    }
  });
});

function crossSeries(i, data) {
  return {
    type: 'scatter', name: 'rAA', xAxisIndex: i, yAxisIndex: i, data: data,
    symbol: CROSS, symbolSize: 10, silent: true, z: 2,
    itemStyle: { color: 'rgba(0,0,0,0)', borderColor: BLUE, borderWidth: 2.4 }
  };
}
function circleSeries(i, data) {
  return {
    type: 'scatter', name: 'rD', xAxisIndex: i, yAxisIndex: i, data: data,
    symbol: 'circle', symbolSize: 10, silent: true, z: 3,
    itemStyle: { color: 'rgba(0,0,0,0)', borderColor: RED, borderWidth: 2.3 }
  };
}
function diagSeries(i) {
  return {
    type: 'line', xAxisIndex: i, yAxisIndex: i, silent: true, z: 5,
    data: [[xMin, xMin], [xMax, xMax]], symbol: 'none',
    lineStyle: { color: '#000', width: 2.4, type: [10, 8] }
  };
}

series.push(circleSeries(0, panelD_rD_loose.concat(columnsToPairs(panelD_rD_band))), diagSeries(0));
series.push(crossSeries(1, panelEaa_rAA_loose.concat(columnsToPairs(panelEaa_rAA_band))), diagSeries(1));
series.push(
  crossSeries(2, panelDEaa_rAA_loose
    .concat(columnsToPairs(panelDEaa_rAA_core))
    .concat(columnsToPairs(panelDEaa_rAA_between))),
  circleSeries(2, panelDEaa_rD_loose
    .concat(columnsToPairs(panelDEaa_rD_core))
    .concat(columnsToPairs(panelDEaa_rD_between))),
  diagSeries(2)
);
series.push(
  crossSeries(3, panelEc_rAA_loose
    .concat(columnsToPairs(panelEc_rAA_core))
    .concat(columnsToPairs(panelEc_rAA_between))),
  circleSeries(3, panelEc_rD_loose
    .concat(columnsToPairs(panelEc_rD_core))
    .concat(columnsToPairs(panelEc_rD_between))),
  diagSeries(3)
);

// legend title and axis titles
graphics.push({
  type: 'text',
  style: {
    x: 815, y: 23.8, text: 'Prediction', fontSize: 36, fontFamily: FONT, fill: '#000',
    align: 'left', verticalAlign: 'middle', textAlign: 'left', textVerticalAlign: 'middle'
  }
});
graphics.push({
  type: 'text',
  style: {
    x: 1025, y: 636, text: '{a|Realized r}{s|pc}', rich: titleRich, fill: '#000',
    align: 'center', verticalAlign: 'middle', textAlign: 'center', textVerticalAlign: 'middle'
  }
});
graphics.push({
  type: 'text', x: 22.3, y: 338, rotation: Math.PI / 2,
  style: {
    x: 0, y: 0, text: '{a|Predicted r}{s|pc}', rich: titleRich, fill: '#000',
    align: 'center', verticalAlign: 'middle', textAlign: 'center', textVerticalAlign: 'middle'
  }
});

function legendRich(padLeft) {
  return {
    r: { fontSize: 36, fontFamily: FONT, color: '#000', verticalAlign: 'top', padding: [3, 0, 7, padLeft] },
    sup: { fontSize: 21, fontFamily: FONT, color: '#000', verticalAlign: 'top', width: 0, padding: [2, 0, 0, 0] },
    sub: { fontSize: 21, fontFamily: FONT, color: '#000', verticalAlign: 'top', padding: [18, 0, 0, 0] }
  };
}

var legends = [
  {
    data: [{ name: 'rD', icon: 'circle', itemStyle: { color: 'rgba(0,0,0,0)', borderColor: RED, borderWidth: 2.3 } }],
    left: 1028, top: 0, padding: 0, itemWidth: 11, itemHeight: 11, selectedMode: false,
    formatter: function () { return '{r|r}{sup|D}{sub|pc}'; },
    textStyle: { rich: legendRich(40) }
  },
  {
    data: [{ name: 'rAA', icon: CROSS, itemStyle: { color: 'rgba(0,0,0,0)', borderColor: BLUE, borderWidth: 2.4 } }],
    left: 1168, top: 0, padding: 0, itemWidth: 11, itemHeight: 11, selectedMode: false,
    formatter: function () { return '{r|r}{sup|AA}{sub|pc}'; },
    textStyle: { rich: legendRich(42) }
  }
];

var chart = echarts.init(document.getElementById('chart'), null, { renderer: 'canvas' });
chart.setOption({
  animation: false,
  backgroundColor: '#fff',
  legend: legends,
  grid: grids,
  xAxis: xAxes,
  yAxis: yAxes,
  series: series,
  graphic: { elements: graphics }
});
</script>
</body>
</html>
